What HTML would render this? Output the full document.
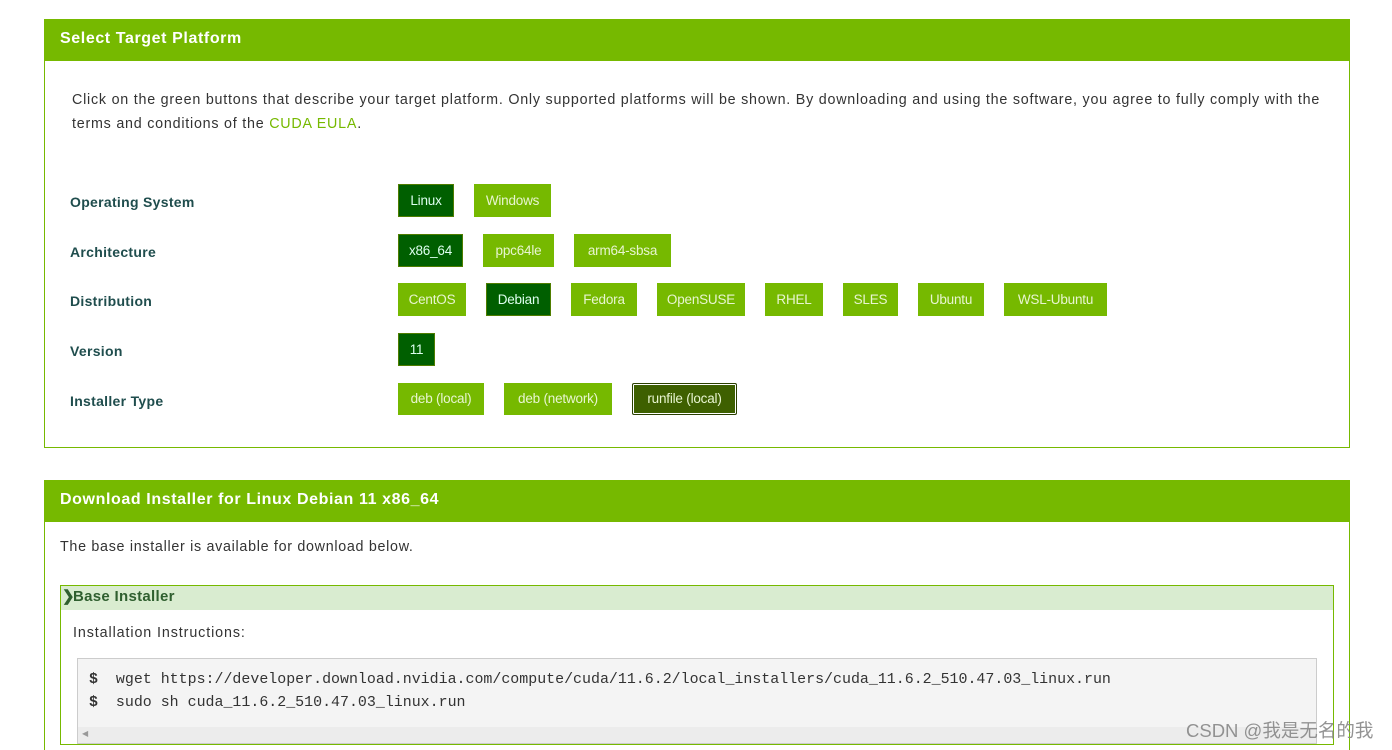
<!DOCTYPE html>
<html><head><meta charset="utf-8"><style>
*{margin:0;padding:0;box-sizing:border-box}
html,body{width:1392px;height:750px;overflow:hidden}
body{background:#fff;position:relative;font-family:"Liberation Sans",sans-serif}
.a{position:absolute}
.hdr{background:#76b900;color:#fff;font-weight:bold;font-size:16px;letter-spacing:0.6px;padding-left:16px;line-height:40px}
.lbl{color:#1f4d4d;font-weight:bold;font-size:14px;left:70px;letter-spacing:0.3px}
.b{position:absolute;background:#76b900;color:#e8f5d0;font-size:13.5px;text-align:center;height:33px;line-height:33px;letter-spacing:-0.2px}
.s{background:#005f00;border:1px solid #4f7d00;line-height:31px;color:#dfe}
.mono{font-family:"Liberation Mono",monospace;font-size:14.95px;color:#333}
</style></head><body>
<div class="a" style="left:44px;top:19px;width:1306px;height:429px;border:1px solid #76b900"></div>
<div class="a hdr" style="left:44px;top:19px;width:1306px;height:42px">Select Target Platform</div>
<div class="a" style="left:72px;top:88px;width:1300px;font-size:14.3px;color:#333;line-height:24px;letter-spacing:0.77px;white-space:nowrap">Click on the green buttons that describe your target platform. Only supported platforms will be shown. By downloading and using the software, you agree to fully comply with the<br>terms and conditions of the <span style="color:#76b900">CUDA EULA</span>.</div>

<div class="a lbl" style="top:194px">Operating System</div>
<div class="a lbl" style="top:244px">Architecture</div>
<div class="a lbl" style="top:293px">Distribution</div>
<div class="a lbl" style="top:343px">Version</div>
<div class="a lbl" style="top:393px">Installer Type</div>

<div class="b s" style="left:398px;top:184px;width:56px">Linux</div>
<div class="b" style="left:474px;top:184px;width:77px">Windows</div>
<div class="b s" style="left:398px;top:234px;width:65px">x86_64</div>
<div class="b" style="left:483px;top:234px;width:71px">ppc64le</div>
<div class="b" style="left:574px;top:234px;width:97px">arm64-sbsa</div>
<div class="b" style="left:398px;top:283px;width:68px">CentOS</div>
<div class="b s" style="left:486px;top:283px;width:65px">Debian</div>
<div class="b" style="left:571px;top:283px;width:66px">Fedora</div>
<div class="b" style="left:657px;top:283px;width:88px">OpenSUSE</div>
<div class="b" style="left:765px;top:283px;width:58px">RHEL</div>
<div class="b" style="left:843px;top:283px;width:55px">SLES</div>
<div class="b" style="left:918px;top:283px;width:66px">Ubuntu</div>
<div class="b" style="left:1004px;top:283px;width:103px">WSL-Ubuntu</div>
<div class="b s" style="left:398px;top:333px;width:37px">11</div>
<div class="b" style="left:398px;top:383px;width:86px;height:32px;line-height:32px">deb (local)</div>
<div class="b" style="left:504px;top:383px;width:108px;height:32px;line-height:32px">deb (network)</div>
<div class="b" style="left:632px;top:383px;width:105px;height:32px;line-height:30px;background:#3e6000;border:1px solid #2a4000;box-shadow:inset 0 0 0 1px #fff;border-radius:2px">runfile (local)</div>

<div class="a" style="left:44px;top:480px;width:1306px;height:290px;border:1px solid #76b900"></div>
<div class="a hdr" style="left:44px;top:480px;width:1306px;height:42px">Download Installer for Linux Debian 11 x86_64</div>
<div class="a" style="left:60px;top:539px;font-size:14.3px;color:#333;letter-spacing:0.7px">The base installer is available for download below.</div>

<div class="a" style="left:60px;top:585px;width:1274px;height:160px;border:1px solid #76b900"></div>
<div class="a" style="left:61px;top:586px;width:1272px;height:24px;background:#d9ecd0;color:#2f5f2f;font-weight:bold;font-size:15px;line-height:22px;padding-left:12px;letter-spacing:0.3px">Base Installer</div>
<div class="a" style="left:62px;top:589px;font-size:15px;font-weight:bold;color:#2f5f2f;line-height:16px">&#10095;</div>
<div class="a" style="left:73px;top:625px;font-size:14.3px;color:#333;letter-spacing:0.9px">Installation Instructions:</div>
<div class="a" style="left:77px;top:658px;width:1240px;height:86px;background:#f4f4f4;border:1px solid #ccc"></div>
<div class="a" style="left:78px;top:727px;width:1238px;height:16px;background:#ececec"></div>
<div class="a" style="left:82px;top:729px;font-size:8px;color:#999">&#9664;</div>
<div class="a mono" style="left:89px;top:669px;line-height:23px;white-space:pre"><b>$</b>  wget https://developer.download.nvidia.com/compute/cuda/11.6.2/local_installers/cuda_11.6.2_510.47.03_linux.run
<b>$</b>  sudo sh cuda_11.6.2_510.47.03_linux.run</div>
<div class="a" style="left:1186px;top:717px;font-size:18.5px;color:#888;font-family:'Liberation Sans','Noto Sans CJK SC',sans-serif;opacity:0.9">CSDN @我是无名的我</div>
</body></html>
